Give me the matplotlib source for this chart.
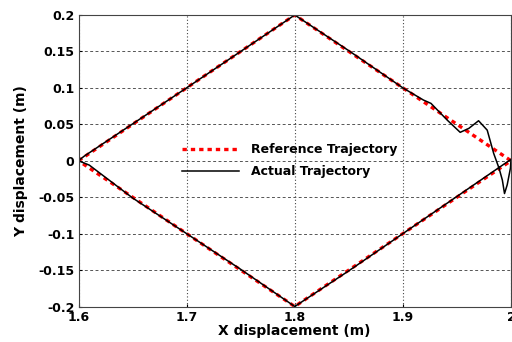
#!/usr/bin/env python3

import matplotlib
matplotlib.use("Agg")
import matplotlib.pyplot as plt

# reference diamond path (m)
ref_x = [1.6, 1.8, 2.0, 1.8, 1.6]
ref_y = [0.0, 0.2, 0.0, -0.2, 0.0]

# measured end-effector path (m)
act_x = [1.6, 1.605, 1.7, 1.8, 1.85, 1.9, 1.919, 1.926, 1.941, 1.953, 1.961,
         1.970, 1.978, 1.984, 1.989, 1.992, 1.994, 1.9965, 1.9995, 2.0,
         1.95, 1.9, 1.85, 1.8, 1.75, 1.7, 1.65, 1.61, 1.6]
act_y = [0.0, 0.006, 0.1, 0.2, 0.151, 0.1, 0.0833, 0.0787, 0.0558, 0.039, 0.0444,
         0.0549, 0.042, 0.010, -0.0105, -0.0265, -0.045, -0.033, -0.010, 0.002,
         -0.049, -0.1, -0.151, -0.2, -0.149, -0.1, -0.051, -0.006, 0.0]

plt.rcParams["font.family"] = ["DejaVu Sans"]
plt.rcParams["font.weight"] = "bold"

fig = plt.figure(figsize=(5.12, 3.42), dpi=100)
ax = fig.add_axes([78.5 / 512, 1 - 306.5 / 342, 432.5 / 512, 291.5 / 342])

ax.plot(ref_x, ref_y, color="red", linestyle=(0, (1.3, 1.2)), linewidth=2.4,
        label="Reference Trajectory")
ax.plot(act_x, act_y, color="black", linewidth=1.1, label="Actual Trajectory")

ax.set_xlim(1.6, 2.0)
ax.set_ylim(-0.2, 0.2)
ax.set_xticks([1.6, 1.7, 1.8, 1.9, 2.0])
ax.set_xticklabels(["1.6", "1.7", "1.8", "1.9", "2"])
ax.set_yticks([-0.2, -0.15, -0.1, -0.05, 0, 0.05, 0.1, 0.15, 0.2])
ax.set_yticklabels(["-0.2", "-0.15", "-0.1", "-0.05", "0", "0.05", "0.1", "0.15", "0.2"])
ax.tick_params(direction="in", length=2, labelsize=9, pad=3)

ax.yaxis.grid(True, linestyle=(0, (3, 2.5)), color="#555555", linewidth=0.7)
ax.xaxis.grid(True, linestyle=(0, (1, 2)), color="#444444", linewidth=0.8)
for s in ax.spines.values():
    s.set_color("#444444")

ax.set_xlabel("X displacement (m)", fontsize=10, fontweight="bold", labelpad=0)
ax.set_ylabel("Y displacement (m)", fontsize=10, fontweight="bold", labelpad=7)

ax.legend(loc="upper left", bbox_to_anchor=(0.239, 0.56), frameon=False,
          borderaxespad=0, borderpad=0, fontsize=9, handlelength=4.6,
          handletextpad=0.9, labelspacing=0.7)

fig.savefig("out.png", dpi=100)
